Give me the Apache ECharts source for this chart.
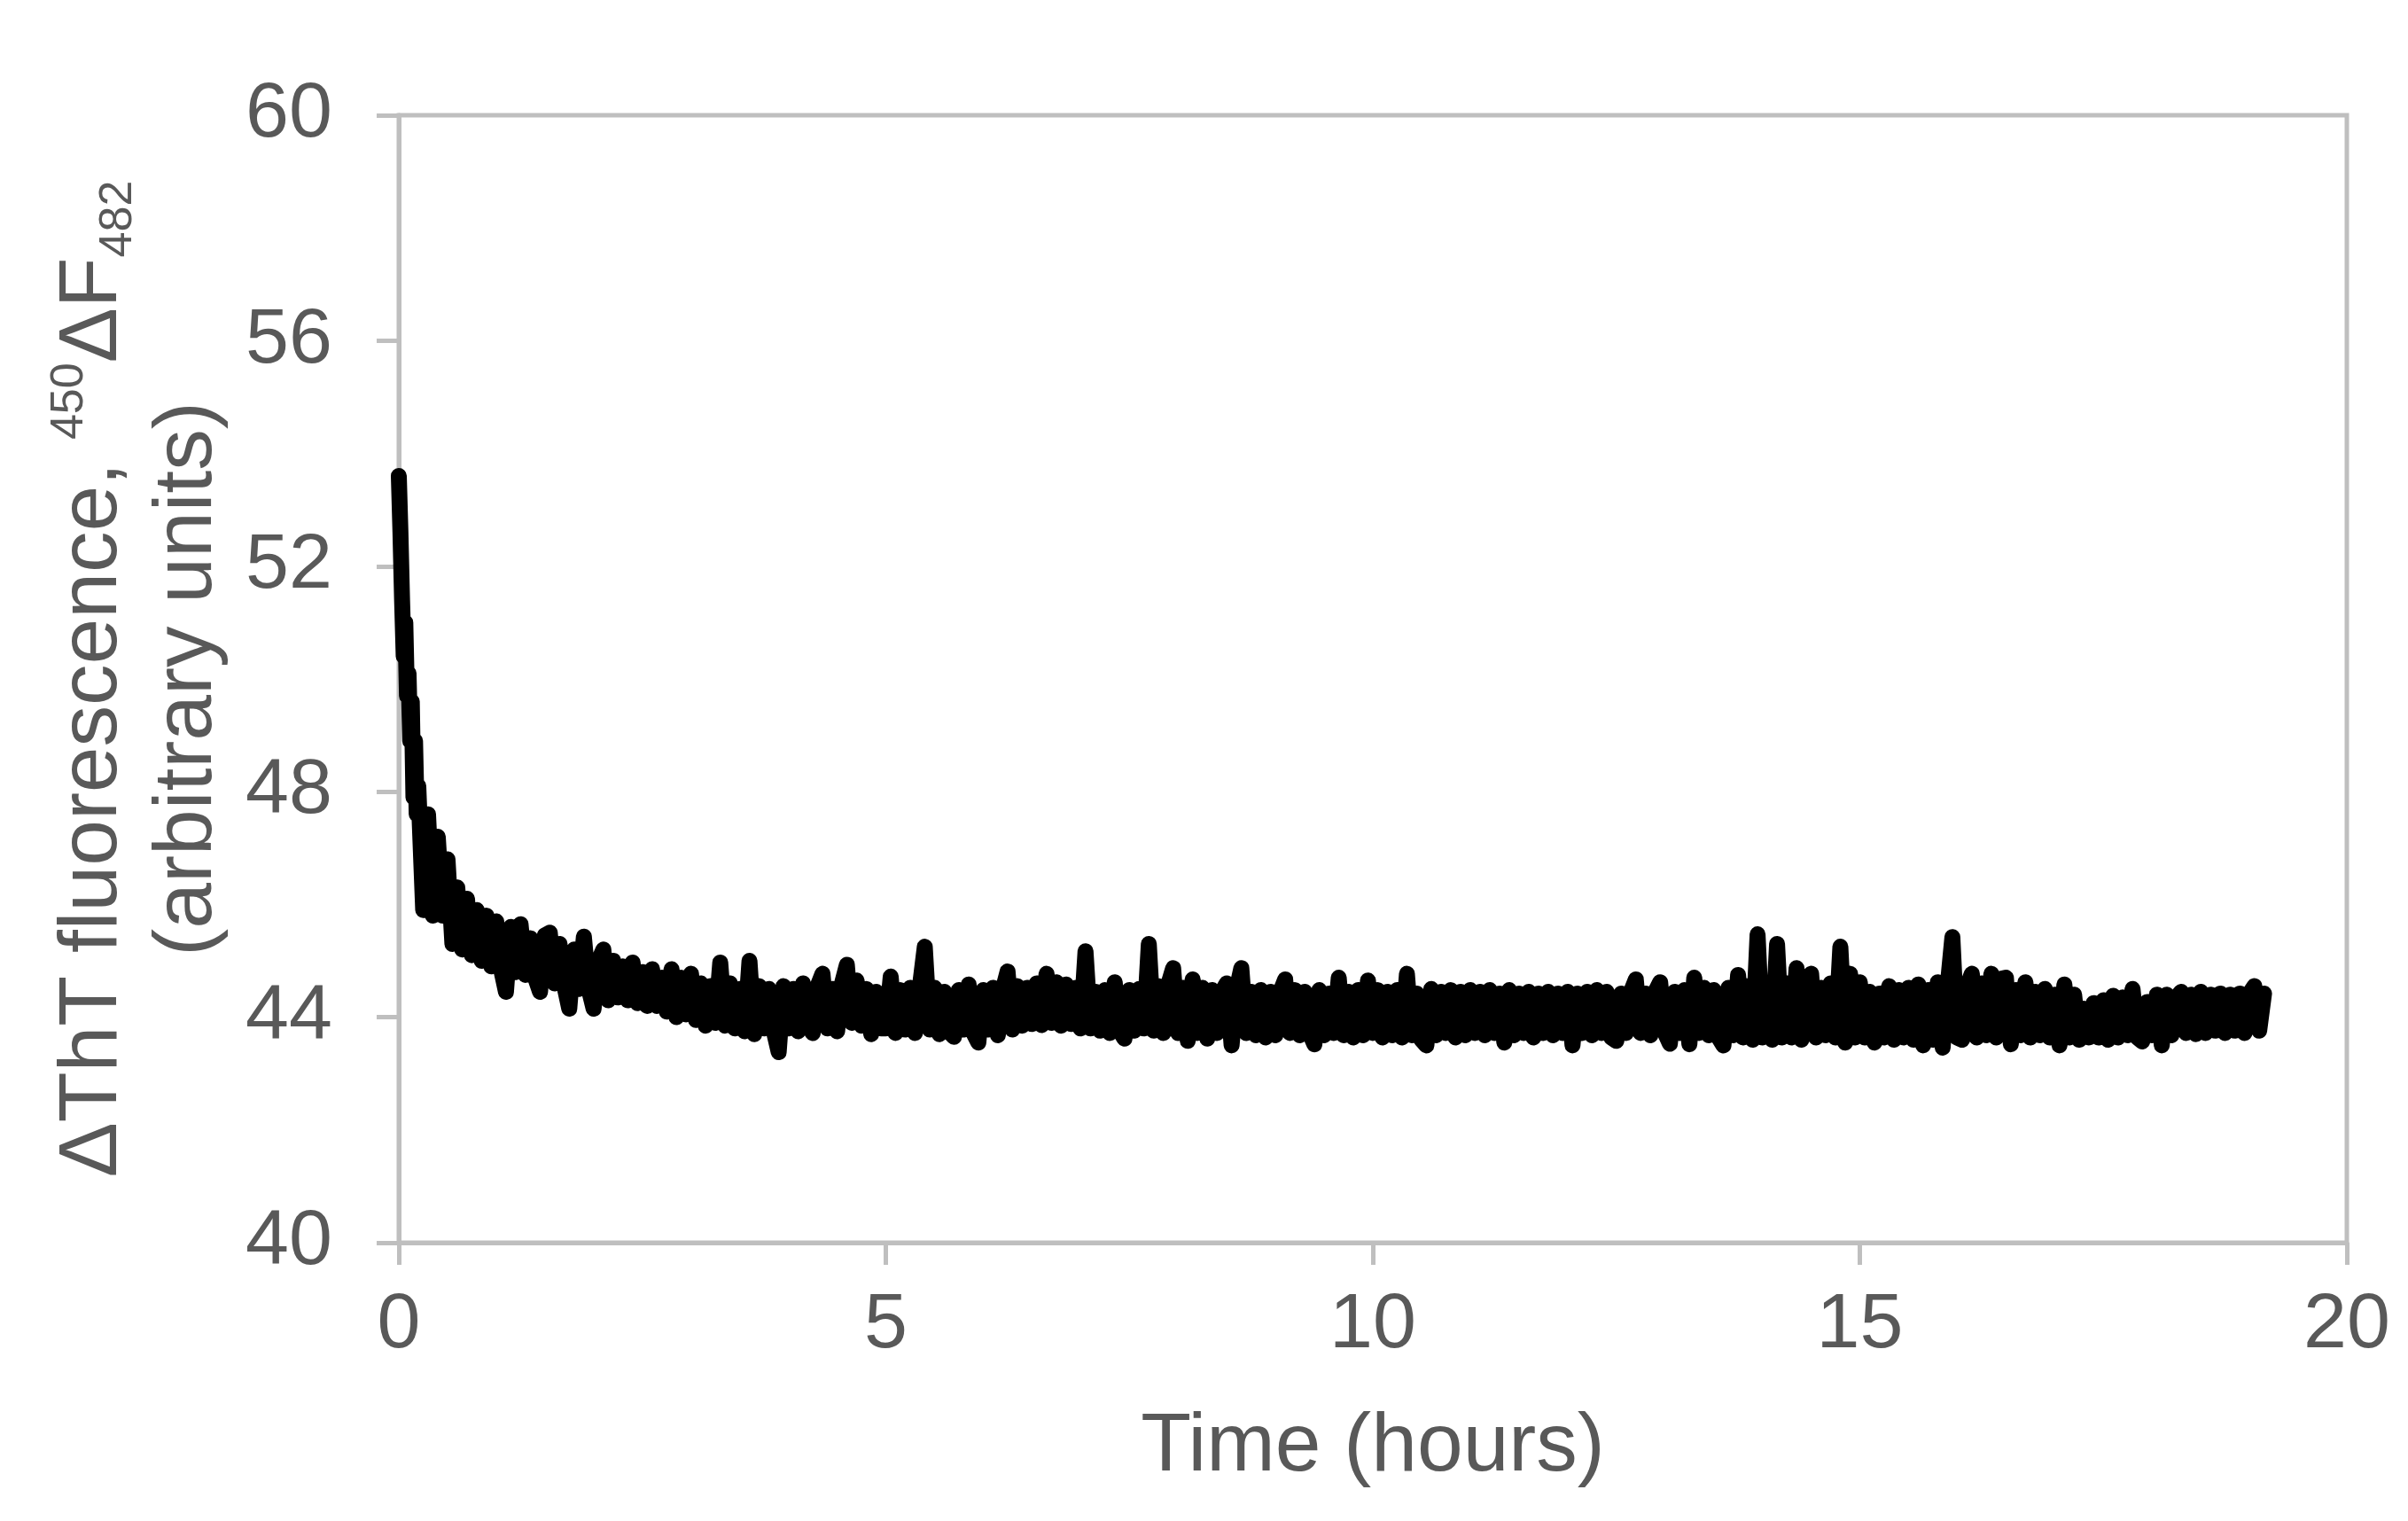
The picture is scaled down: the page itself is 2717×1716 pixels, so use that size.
<!DOCTYPE html>
<html>
<head>
<meta charset="utf-8">
<script src="https://cdn.jsdelivr.net/npm/echarts@6/dist/echarts.min.js"></script>
<style>
  html, body { margin: 0; padding: 0; background: #ffffff; }
  #chart { width: 2717px; height: 1716px; }
</style>
</head>
<body>
<div id="chart"></div>
<script>
// ---- DATA ----
// Sampling times in minutes (every minute at the start, then every 3 minutes)
const TIME_MIN = [
  0,1,2,3,4,5,6,7,8,9,10,11,12,15,18,21,24,27,30,33,36,39,42,45,48,51,54,57,
  60,63,66,69,72,75,78,81,84,87,90,93,96,99,102,105,108,111,114,117,
  120,123,126,129,132,135,138,141,144,147,150,153,156,159,162,165,168,171,174,177,
  180,183,186,189,192,195,198,201,204,207,210,213,216,219,222,225,228,231,234,237,
  240,243,246,249,252,255,258,261,264,267,270,273,276,279,282,285,288,291,294,297,
  300,303,306,309,312,315,318,321,324,327,330,333,336,339,342,345,348,351,354,357,
  360,363,366,369,372,375,378,381,384,387,390,393,396,399,402,405,408,411,414,417,
  420,423,426,429,432,435,438,441,444,447,450,453,456,459,462,465,468,471,474,477,
  480,483,486,489,492,495,498,501,504,507,510,513,516,519,522,525,528,531,534,537,
  540,543,546,549,552,555,558,561,564,567,570,573,576,579,582,585,588,591,594,597,
  600,603,606,609,612,615,618,621,624,627,630,633,636,639,642,645,648,651,654,657,
  660,663,666,669,672,675,678,681,684,687,690,693,696,699,702,705,708,711,714,717,
  720,723,726,729,732,735,738,741,744,747,750,753,756,759,762,765,768,771,774,777,
  780,783,786,789,792,795,798,801,804,807,810,813,816,819,822,825,828,831,834,837,
  840,843,846,849,852,855,858,861,864,867,870,873,876,879,882,885,888,891,894,897,
  900,903,906,909,912,915,918,921,924,927,930,933,936,939,942,945,948,951,954,957,
  960,963,966,969,972,975,978,981,984,987,990,993,996,999,1002,1005,1008,1011,1014,1017,
  1020,1023,1026,1029,1032,1035,1038,1041,1044,1047,1050,1053,1056,1059,1062,1065,1068,1071,1074,1077,
  1080,1083,1086,1089,1092,1095,1098,1101,1104,1107,1110,1113,1116,1119,1122,1125,1128,1131,1134,1137,
  1140,1143,1146,1149
];

// ΔThT fluorescence (arbitrary units), one value per sample time above
const FLUOR = [
  // hour 0
  53.6,52.6,51.4,50.4,51.0,49.7,50.1,48.9,49.6,47.9,48.9,47.6,48.1,
  45.9,47.6,45.8,47.2,45.8,46.8,45.3,46.3,45.2,46.1,45.1,45.9,45.0,45.8,44.9,
  // hour 1
  45.7,44.85,44.45,45.6,44.8,45.65,44.75,45.4,44.7,44.45,45.45,45.5,44.6,45.3,44.55,44.15,45.2,44.5,45.43,44.5,
  // hour 2
  44.15,45.0,45.2,44.3,45.0,44.35,44.9,44.3,44.97,44.25,44.8,44.2,44.85,44.2,44.7,44.1,44.85,44.0,44.7,44.05,
  // hour 3
  44.77,43.95,44.6,43.85,44.55,43.9,44.97,43.85,44.6,43.8,44.5,43.75,45.0,43.7,44.55,43.8,44.5,43.75,43.38,44.55,
  // hour 4
  43.8,44.5,43.75,44.6,43.85,43.72,44.55,44.77,43.8,44.5,43.75,44.6,44.93,43.9,44.65,43.85,44.5,43.7,44.45,43.8,
  // hour 5
  43.8,44.72,43.72,44.48,43.78,44.52,43.72,44.55,45.25,43.78,44.52,43.7,44.45,43.74,43.65,44.48,43.78,44.58,43.72,43.55,
  // hour 6
  44.48,43.78,44.52,43.68,44.48,44.81,43.78,44.55,43.85,44.52,43.88,44.6,43.86,44.77,43.9,44.62,43.85,44.58,43.88,44.52,
  // hour 7
  43.8,45.17,43.8,44.45,43.76,44.48,43.72,44.62,43.76,43.62,44.48,43.76,44.5,43.8,45.3,43.76,44.55,43.72,44.58,44.87,
  // hour 8
  43.72,44.52,43.58,44.67,43.72,44.52,43.62,44.48,43.72,44.45,44.6,43.5,44.48,44.87,43.72,44.45,43.68,44.48,43.64,44.45,
  // hour 9
  43.68,44.45,44.67,43.72,44.48,43.68,44.45,43.72,43.52,44.48,43.68,44.42,43.72,44.7,43.68,44.45,43.64,44.48,43.68,44.65,
  // hour 10
  43.72,44.48,43.64,44.45,43.68,44.48,43.64,44.77,43.68,44.42,43.6,43.5,44.5,43.68,44.45,43.72,44.48,43.64,44.45,43.68,
  // hour 11
  44.48,43.72,44.45,43.68,44.48,43.72,44.42,43.55,44.48,43.68,44.42,43.72,44.45,43.64,44.42,43.72,44.45,43.68,44.42,43.72,
  // hour 12
  44.45,43.5,44.42,43.72,44.45,43.68,44.48,43.72,44.45,43.64,43.58,44.42,43.72,44.45,44.67,43.72,44.42,43.68,44.45,44.62,
  // hour 13
  43.72,43.53,44.45,43.72,44.48,43.52,44.7,43.72,44.52,43.68,44.48,43.64,43.5,44.52,43.68,44.75,43.64,44.55,43.6,45.47,
  // hour 14
  43.64,44.58,43.6,45.3,43.64,44.6,43.64,44.87,43.6,44.65,44.77,43.64,44.52,43.68,44.6,43.64,45.25,43.55,44.77,43.64,
  // hour 15
  44.62,43.64,44.45,43.55,44.42,43.64,44.55,43.6,44.48,43.64,44.52,43.6,44.58,43.5,44.48,43.6,44.62,43.46,44.52,45.42,
  // hour 16
  43.64,43.6,44.55,44.77,43.64,44.6,43.68,44.77,43.64,44.68,44.7,43.52,44.48,43.68,44.62,43.64,44.45,43.68,44.5,43.64,
  // hour 17
  44.4,43.5,44.58,43.64,44.4,43.6,44.15,43.64,44.25,43.64,44.3,43.6,44.38,43.64,44.35,43.68,44.5,43.64,43.57,44.27,
  // hour 18
  43.68,44.4,43.5,44.4,43.68,44.35,44.45,43.72,44.4,43.7,44.45,43.72,44.4,43.76,44.42,43.72,44.4,43.76,44.42,43.72,
  // hour 19
  44.42,44.55,43.76,44.42
];

const X_MIN = 0, X_MAX = 20, X_STEP = 5;   // x tick labels 0,5,10,15,20
const Y_MIN = 40, Y_MAX = 60, Y_STEP = 4;  // y tick labels 40..60

const X_TITLE = 'Time (hours)';
const Y_TITLE_MAIN = 'ΔThT fluorescence, ';
const Y_TITLE_SUP = '450';
const Y_TITLE_MID = 'ΔF';
const Y_TITLE_SUB = '482';
const Y_TITLE_LINE2 = '(arbitrary units)';

// ---- CHART ----
const seriesData = TIME_MIN.map((m, i) => [m / 60, FLUOR[i]]);

const TEXT = '#595959';
const AXIS = '#bfbfbf';
const FONT = '"Liberation Sans", Arial, Helvetica, sans-serif';

const chart = echarts.init(document.getElementById('chart'), null, { renderer: 'canvas' });
chart.setOption({
  animation: false,
  backgroundColor: '#ffffff',
  grid: {
    left: 450, right: 69, top: 130, bottom: 314,
    show: true, borderColor: AXIS, borderWidth: 5, backgroundColor: 'transparent'
  },
  xAxis: {
    type: 'value', min: X_MIN, max: X_MAX, interval: X_STEP,
    axisLine: { show: true, lineStyle: { color: AXIS, width: 5 } },
    axisTick: { show: true, inside: false, length: 25, lineStyle: { color: AXIS, width: 5 } },
    splitLine: { show: false },
    axisLabel: { color: TEXT, fontSize: 88, fontFamily: FONT, margin: 50 },
    name: X_TITLE, nameLocation: 'middle', nameGap: 185,
    nameTextStyle: { color: TEXT, fontSize: 93, fontFamily: FONT }
  },
  yAxis: {
    type: 'value', min: Y_MIN, max: Y_MAX, interval: Y_STEP,
    axisLine: { show: true, lineStyle: { color: AXIS, width: 5 } },
    axisTick: { show: true, inside: false, length: 25, lineStyle: { color: AXIS, width: 5 } },
    splitLine: { show: false },
    axisLabel: { color: TEXT, fontSize: 88, fontFamily: FONT, margin: 75 },
    name: '{m|' + Y_TITLE_MAIN + '}{sup|' + Y_TITLE_SUP + '}{m|' + Y_TITLE_MID + '}{sub|' + Y_TITLE_SUB + '}\n{m|' + Y_TITLE_LINE2 + '}',
    nameLocation: 'middle', nameRotate: 90, nameGap: 169,
    nameTextStyle: {
      color: TEXT, fontSize: 93, fontFamily: FONT, lineHeight: 107,
      rich: {
        m: { color: TEXT, fontSize: 93, fontFamily: FONT, lineHeight: 107 },
        sup: { color: TEXT, fontSize: 52, fontFamily: FONT, lineHeight: 56, verticalAlign: 'top' },
        sub: { color: TEXT, fontSize: 52, fontFamily: FONT, lineHeight: 36, verticalAlign: 'bottom' }
      }
    }
  },
  series: [{
    type: 'line',
    data: seriesData,
    showSymbol: false,
    symbol: 'none',
    sampling: null,
    lineStyle: { color: '#000000', width: 18, cap: 'round', join: 'round' },
    z: 3
  }]
});
</script>
</body>
</html>
